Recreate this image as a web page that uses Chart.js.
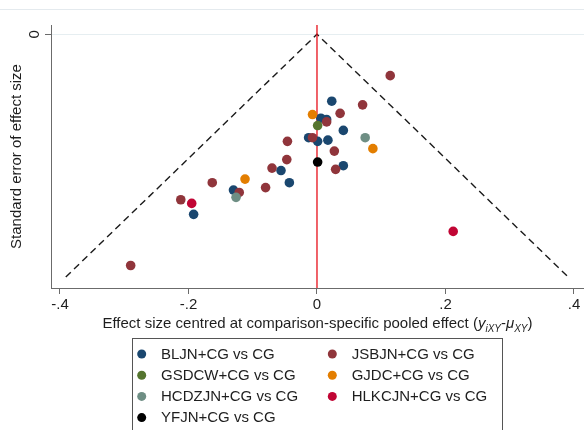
<!DOCTYPE html>
<html>
<head>
<meta charset="utf-8">
<script src="https://cdn.jsdelivr.net/npm/chart.js@4.4.1/dist/chart.umd.min.js"></script>
<style>
  html, body { margin: 0; padding: 0; background: #fff; }
  #wrap { width: 584px; height: 430px; position: relative; }
</style>
</head>
<body>
<div id="wrap"><canvas id="funnelChart"></canvas></div>
<script>
// comparisons (legend order) and their colours
const groups = ['BLJN+CG vs CG', 'JSBJN+CG vs CG', 'GSDCW+CG vs CG', 'GJDC+CG vs CG',
                'HCDZJN+CG vs CG', 'HLKCJN+CG vs CG', 'YFJN+CG vs CG'];
const colors = ['#1a476f', '#90353b', '#55752f', '#e37e00', '#6e8e84', '#c10534', '#000000'];

// centred effect size (x) and standard error (se) per study
const bljnX  = [0.023, 0.006, 0.015, 0.041, -0.013, 0.001, 0.017, 0.041, -0.056, -0.043, -0.130, -0.192];
const bljnSe = [0.055, 0.069, 0.070, 0.079, 0.085, 0.088, 0.087, 0.108, 0.112, 0.122, 0.128, 0.148];
const jsbjnX  = [0.114, 0.071, 0.036, 0.015, -0.007, -0.046, 0.027, -0.047, -0.070, 0.029, -0.080, -0.163, -0.121, -0.212, -0.290];
const jsbjnSe = [0.034, 0.058, 0.065, 0.072, 0.085, 0.088, 0.096, 0.103, 0.110, 0.111, 0.126, 0.122, 0.130, 0.136, 0.190];
const gsdcwX  = [0.001];
const gsdcwSe = [0.075];
const gjdcX  = [-0.007, 0.087, -0.112];
const gjdcSe = [0.066, 0.094, 0.119];
const hcdzjnX  = [0.075, -0.126];
const hcdzjnSe = [0.085, 0.134];
const hlkcjnX  = [-0.195, 0.212];
const hlkcjnSe = [0.139, 0.162];
const yfjnX  = [0.001];
const yfjnSe = [0.105];

const seriesX  = [bljnX, jsbjnX, gsdcwX, gjdcX, hcdzjnX, hlkcjnX, yfjnX];
const seriesSe = [bljnSe, jsbjnSe, gsdcwSe, gjdcSe, hcdzjnSe, hlkcjnSe, yfjnSe];

// pseudo 95% limits reach down to the largest se
const seMax = 0.1995;

const xTickValues = [-0.4, -0.2, 0, 0.2, 0.4];
const xTickLabels = ['-.4', '-.2', '0', '.2', '.4'];
const yTickValues = [0];
const yTickLabels = ['0'];

const xMin = -0.414, xMax = 0.4156;
const yMin = -0.0076, yMax = 0.2085;

const FONT = 'Liberation Sans, Arial, Helvetica, sans-serif';
const TEXT = '#1e1e1e';
const AXIS = '#6b6b6b';

const datasets = [];
groups.forEach((g, i) => {
    datasets.push({
        type: 'scatter',
        label: g,
        data: seriesX[i].map((x, k) => ({ x: x, y: seriesSe[i][k] })),
        backgroundColor: colors[i],
        borderWidth: 0,
        pointRadius: 4.8,
        pointHoverRadius: 4.8,
        order: -i
    });
});
datasets.push({
    type: 'line', label: 'limits', isRef: true,
    data: [{ x: -1.96 * seMax, y: seMax }, { x: 0, y: 0 }, { x: 1.96 * seMax, y: seMax }],
    borderColor: '#1a1a1a', borderWidth: 1.4, borderDash: [7, 4.5],
    pointRadius: 0, fill: false, tension: 0, order: 20
});
datasets.push({
    type: 'line', label: 'null', isRef: true,
    data: [{ x: 0, y: yMin }, { x: 0, y: yMax }],
    borderColor: '#e8101a', borderWidth: 1.3,
    pointRadius: 0, fill: false, order: 19
});

// frame line, rotated y tick, x title with subscripts, boxed legend
const decor = {
    id: 'decor',
    beforeDraw(chart) {
        const ctx = chart.ctx;
        ctx.save();
        ctx.strokeStyle = '#e4eaee';
        ctx.lineWidth = 1;
        ctx.beginPath(); ctx.moveTo(0, 9.5); ctx.lineTo(584, 9.5); ctx.stroke();
        ctx.restore();
    },
    afterDraw(chart) {
        const ctx = chart.ctx;
        const ys = chart.scales.y;
        ctx.save();
        ctx.fillStyle = TEXT;

        // y tick labels, vertical like the original
        yTickValues.forEach((v, i) => {
            ctx.save();
            ctx.translate(34.5, ys.getPixelForValue(v));
            ctx.rotate(-Math.PI / 2);
            ctx.font = '15px ' + FONT;
            ctx.textAlign = 'center';
            ctx.textBaseline = 'middle';
            ctx.fillText(yTickLabels[i], 0, 0);
            ctx.restore();
        });

        // x axis title
        const parts = [
            { t: 'Effect size centred at comparison-specific pooled effect (', f: '15px ' + FONT, dy: 0 },
            { t: 'y', f: 'italic 15px ' + FONT, dy: 0 },
            { t: 'iXY', f: 'italic 10px ' + FONT, dy: 3.5 },
            { t: '-', f: '15px ' + FONT, dy: 0 },
            { t: 'μ', f: 'italic 15px ' + FONT, dy: 0 },
            { t: 'XY', f: 'italic 10px ' + FONT, dy: 3.5 },
            { t: ')', f: '15px ' + FONT, dy: 0 }
        ];
        let total = 0;
        parts.forEach(p => { ctx.font = p.f; p.w = ctx.measureText(p.t).width; total += p.w; });
        let x = 317.5 - total / 2;
        const base = 328;
        ctx.textAlign = 'left';
        ctx.textBaseline = 'alphabetic';
        parts.forEach(p => { ctx.font = p.f; ctx.fillText(p.t, x, base + p.dy); x += p.w; });

        // legend
        ctx.strokeStyle = '#555';
        ctx.lineWidth = 1;
        ctx.strokeRect(132.5, 338.5, 370, 120);
        ctx.font = '15px ' + FONT;
        ctx.textBaseline = 'middle';
        groups.forEach((g, i) => {
            const col = i % 2, row = Math.floor(i / 2);
            const cy = 354 + row * 21.2;
            ctx.fillStyle = colors[i];
            ctx.beginPath();
            ctx.arc(141.7 + col * 190.6, cy, 4.5, 0, Math.PI * 2);
            ctx.fill();
            ctx.fillStyle = TEXT;
            ctx.fillText(g, 161 + col * 190.7, cy + 0.5);
        });
        ctx.restore();
    }
};

new Chart(document.getElementById('funnelChart'), {
    data: { datasets: datasets },
    options: {
        responsive: true,
        maintainAspectRatio: false,
        animation: false,
        devicePixelRatio: 1,
        layout: { autoPadding: false, padding: { top: 25, left: 0, right: 0, bottom: 94 } },
        plugins: { legend: { display: false }, tooltip: { enabled: false } },
        scales: {
            x: {
                type: 'linear', min: xMin, max: xMax,
                afterBuildTicks: s => { s.ticks = xTickValues.map(v => ({ value: v })); },
                afterFit: s => { s.height = 48; s.paddingLeft = 0; s.paddingRight = 0; },
                border: { color: AXIS, width: 1 },
                grid: { drawOnChartArea: false, drawTicks: true, tickLength: 6, color: AXIS },
                ticks: {
                    padding: 2, color: TEXT, font: { family: FONT, size: 15 },
                    maxRotation: 0, autoSkip: false,
                    callback: (v) => xTickLabels[xTickValues.findIndex(t => Math.abs(t - v) < 1e-9)]
                }
            },
            y: {
                type: 'linear', reverse: true, min: yMin, max: yMax,
                afterBuildTicks: s => { s.ticks = yTickValues.map(v => ({ value: v })); },
                afterFit: s => { s.width = 51; },
                border: { color: AXIS, width: 1 },
                grid: { color: '#e6eef1', lineWidth: 1, drawTicks: true, tickLength: 6, tickColor: AXIS },
                ticks: { display: false },
                title: {
                    display: true, text: 'Standard error of effect size', color: TEXT,
                    font: { family: FONT, size: 15 }, padding: { top: 8, bottom: 0 }
                }
            }
        }
    },
    plugins: [decor]
});
</script>
</body>
</html>
